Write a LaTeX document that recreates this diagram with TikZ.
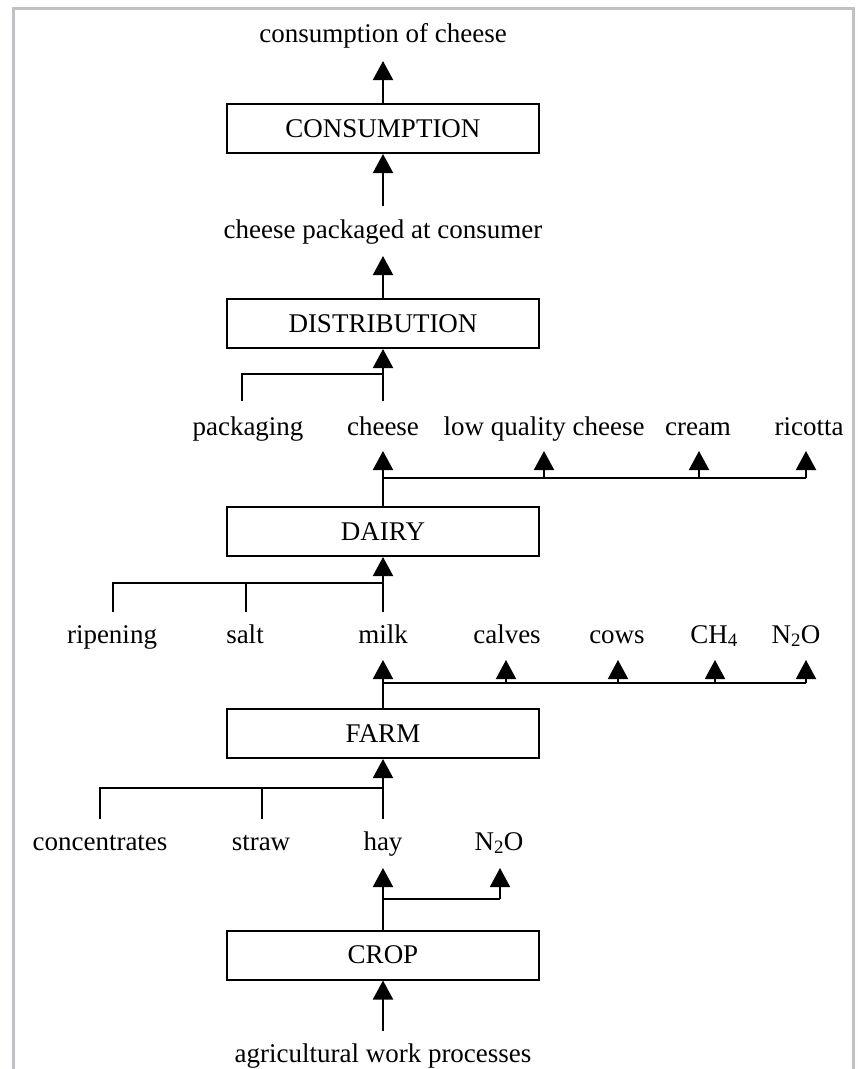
\documentclass[tikz,border=0pt]{standalone}
\usepackage{fontspec}
\setmainfont{Liberation Serif}
\usetikzlibrary{arrows.meta}
\definecolor{framegray}{RGB}{192,192,198}
\tikzset{
  box/.style={draw=black, line width=2pt, minimum width=312pt, minimum height=49pt, inner sep=0pt, font=\fontsize{27}{32}\selectfont},
  lbl/.style={anchor=base, inner sep=0pt, font=\fontsize{27}{32}\selectfont},
  arr/.style={line width=2pt, -{Triangle[width=20pt,length=19pt]}},
  ln/.style={line width=2pt},
}
\begin{document}
\begin{tikzpicture}[x=1pt,y=-1pt]
\useasboundingbox (0,0) rectangle (858,1069);
\fill[white] (0,0) rectangle (858,1069);
\draw[framegray, line width=3pt] (13,1069) -- (13,8) -- (853,8) -- (853,1069);

% boxes
\node[box] (cons) at (383,128.5) {CONSUMPTION};
\node[box] (dist) at (383,323.5) {DISTRIBUTION};
\node[box] (dairy) at (383,531.5) {DAIRY};
\node[box] (farm) at (383,733.5) {FARM};
\node[box] (crop) at (383,955) {CROP};

% labels
\node[lbl] (tcons) at (383,42) {consumption of cheese};
\node[lbl] (tpack) at (383,238) {cheese packaged at consumer};
\node[lbl] (pkg) at (248,435) {packaging};
\node[lbl] (chs) at (383,435) {cheese};
\node[lbl] (lqc) at (544,435) {low quality cheese};
\node[lbl] (crm) at (698,435) {cream};
\node[lbl] (ric) at (809,435) {ricotta};
\node[lbl] (rip) at (112,643) {ripening};
\node[lbl] (slt) at (245,643) {salt};
\node[lbl] (mlk) at (383,643) {milk};
\node[lbl] (clv) at (507,643) {calves};
\node[lbl] (cws) at (617,643) {cows};
\node[lbl] (ch4) at (714,643) {CH\textsubscript{4}};
\node[lbl] (nto) at (796,643) {N\textsubscript{2}O};
\node[lbl] (conc) at (100,850) {concentrates};
\node[lbl] (str) at (261,850) {straw};
\node[lbl] (hay) at (383,850) {hay};
\node[lbl] (ntoc) at (499,850) {N\textsubscript{2}O};
\node[lbl] (agr) at (383,1062) {agricultural work processes};

% coordinates for connector ends
\coordinate (c1) at (383,61);
\coordinate (c2) at (383,206);
\coordinate (c3) at (383,256);
\coordinate (pk0) at (242,401);
\coordinate (pk1) at (242,374);
\coordinate (pk2) at (383,374);
\coordinate (ch0) at (383,401);
\coordinate (d1) at (383,451);
\coordinate (b1) at (383,478);
\coordinate (b2) at (544,478);
\coordinate (b2t) at (544,451);
\coordinate (b3) at (699,478);
\coordinate (b3t) at (699,451);
\coordinate (b4) at (806,478);
\coordinate (b4t) at (806,451);
\coordinate (r0) at (113,612);
\coordinate (r1) at (113,583);
\coordinate (r2) at (383,583);
\coordinate (s0) at (246,612);
\coordinate (s1) at (246,583);
\coordinate (m0) at (383,612);
\coordinate (f1) at (383,660);
\coordinate (e1) at (383,683);
\coordinate (e2) at (506,683);
\coordinate (e2t) at (506,660);
\coordinate (e3) at (618,683);
\coordinate (e3t) at (618,660);
\coordinate (e4) at (715,683);
\coordinate (e4t) at (715,660);
\coordinate (e5) at (806,683);
\coordinate (e5t) at (806,660);
\coordinate (q0) at (100,819);
\coordinate (q1) at (100,788);
\coordinate (q2) at (383,788);
\coordinate (w0) at (262,819);
\coordinate (w1) at (262,788);
\coordinate (h0) at (383,819);
\coordinate (k1) at (383,868);
\coordinate (k2) at (383,899);
\coordinate (k3) at (500,899);
\coordinate (k3t) at (500,868);
\coordinate (g0) at (383,1031);

% connectors
\draw[arr] (cons.north) -- (c1);
\draw[arr] (c2) -- (cons.south);
\draw[arr] (dist.north) -- (c3);
\draw[ln] (pk0) -- (pk1) -- (pk2);
\draw[arr] (ch0) -- (dist.south);
\draw[arr] (dairy.north) -- (d1);
\draw[ln] (b1) -- (b4);
\draw[arr] (b2) -- (b2t);
\draw[arr] (b3) -- (b3t);
\draw[arr] (b4) -- (b4t);
\draw[ln] (r0) -- (r1) -- (r2);
\draw[ln] (s0) -- (s1);
\draw[arr] (m0) -- (dairy.south);
\draw[arr] (farm.north) -- (f1);
\draw[ln] (e1) -- (e5);
\draw[arr] (e2) -- (e2t);
\draw[arr] (e3) -- (e3t);
\draw[arr] (e4) -- (e4t);
\draw[arr] (e5) -- (e5t);
\draw[ln] (q0) -- (q1) -- (q2);
\draw[ln] (w0) -- (w1);
\draw[arr] (h0) -- (farm.south);
\draw[arr] (crop.north) -- (k1);
\draw[ln] (k2) -- (k3);
\draw[arr] (k3) -- (k3t);
\draw[arr] (g0) -- (crop.south);
\end{tikzpicture}
\end{document}
